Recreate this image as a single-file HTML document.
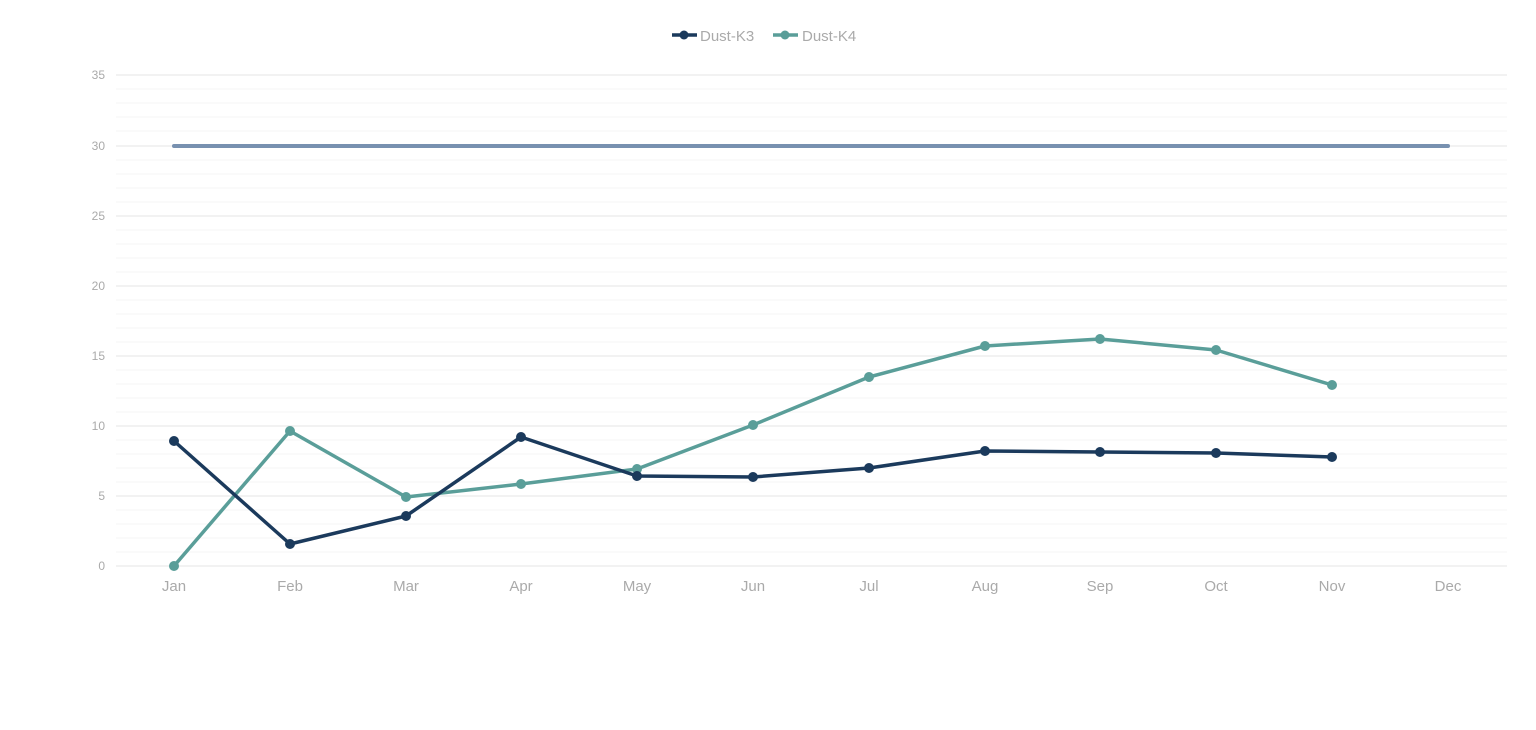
<!DOCTYPE html>
<html><head><meta charset="utf-8"><style>
html,body{margin:0;padding:0;background:#fff;width:1536px;height:730px;overflow:hidden}
svg{display:block;font-family:"Liberation Sans",sans-serif}
</style></head><body>
<svg width="1536" height="730" viewBox="0 0 1536 730">
<g stroke="#f4f4f4" stroke-width="1">
<line x1="116" x2="1507" y1="89" y2="89"/><line x1="116" x2="1507" y1="103" y2="103"/><line x1="116" x2="1507" y1="117" y2="117"/><line x1="116" x2="1507" y1="131" y2="131"/>
<line x1="116" x2="1507" y1="160" y2="160"/><line x1="116" x2="1507" y1="174" y2="174"/><line x1="116" x2="1507" y1="188" y2="188"/><line x1="116" x2="1507" y1="202" y2="202"/>
<line x1="116" x2="1507" y1="230" y2="230"/><line x1="116" x2="1507" y1="244" y2="244"/><line x1="116" x2="1507" y1="258" y2="258"/><line x1="116" x2="1507" y1="272" y2="272"/>
<line x1="116" x2="1507" y1="300" y2="300"/><line x1="116" x2="1507" y1="314" y2="314"/><line x1="116" x2="1507" y1="328" y2="328"/><line x1="116" x2="1507" y1="342" y2="342"/>
<line x1="116" x2="1507" y1="370" y2="370"/><line x1="116" x2="1507" y1="384" y2="384"/><line x1="116" x2="1507" y1="398" y2="398"/><line x1="116" x2="1507" y1="412" y2="412"/>
<line x1="116" x2="1507" y1="440" y2="440"/><line x1="116" x2="1507" y1="454" y2="454"/><line x1="116" x2="1507" y1="468" y2="468"/><line x1="116" x2="1507" y1="482" y2="482"/>
<line x1="116" x2="1507" y1="510" y2="510"/><line x1="116" x2="1507" y1="524" y2="524"/><line x1="116" x2="1507" y1="538" y2="538"/><line x1="116" x2="1507" y1="552" y2="552"/>
</g>
<g stroke="#e6e6e6" stroke-width="1">
<line x1="116" x2="1507" y1="75" y2="75"/><line x1="116" x2="1507" y1="146" y2="146"/><line x1="116" x2="1507" y1="216" y2="216"/><line x1="116" x2="1507" y1="286" y2="286"/><line x1="116" x2="1507" y1="356" y2="356"/><line x1="116" x2="1507" y1="426" y2="426"/><line x1="116" x2="1507" y1="496" y2="496"/><line x1="116" x2="1507" y1="566" y2="566"/>
</g>
<g fill="#aaa" font-size="12" text-anchor="end">
<text x="105" y="79">35</text><text x="105" y="150">30</text><text x="105" y="220">25</text><text x="105" y="290">20</text><text x="105" y="360">15</text><text x="105" y="430">10</text><text x="105" y="500">5</text><text x="105" y="570">0</text>
</g>
<g fill="#aaa" font-size="15" text-anchor="middle">
<text x="174" y="591">Jan</text><text x="290" y="591">Feb</text><text x="406" y="591">Mar</text><text x="521" y="591">Apr</text><text x="637" y="591">May</text><text x="753" y="591">Jun</text><text x="869" y="591">Jul</text><text x="985" y="591">Aug</text><text x="1100" y="591">Sep</text><text x="1216" y="591">Oct</text><text x="1332" y="591">Nov</text><text x="1448" y="591">Dec</text>
</g>
<line x1="174" x2="1448" y1="146" y2="146" stroke="#7891b0" stroke-width="4" stroke-linecap="round"/>
<polyline fill="none" stroke="#5a9e99" stroke-width="3.5" stroke-linejoin="round" points="174,566 290,431 406,497 521,484 637,469 753,425 869,377 985,346 1100,339 1216,350 1332,385"/>
<g fill="#5a9e99"><circle cx="174" cy="566" r="5"/><circle cx="290" cy="431" r="5"/><circle cx="406" cy="497" r="5"/><circle cx="521" cy="484" r="5"/><circle cx="637" cy="469" r="5"/><circle cx="753" cy="425" r="5"/><circle cx="869" cy="377" r="5"/><circle cx="985" cy="346" r="5"/><circle cx="1100" cy="339" r="5"/><circle cx="1216" cy="350" r="5"/><circle cx="1332" cy="385" r="5"/></g>
<polyline fill="none" stroke="#1b3a5c" stroke-width="3.5" stroke-linejoin="round" points="174,441 290,544 406,516 521,437 637,476 753,477 869,468 985,451 1100,452 1216,453 1332,457"/>
<g fill="#1b3a5c"><circle cx="174" cy="441" r="5"/><circle cx="290" cy="544" r="5"/><circle cx="406" cy="516" r="5"/><circle cx="521" cy="437" r="5"/><circle cx="637" cy="476" r="5"/><circle cx="753" cy="477" r="5"/><circle cx="869" cy="468" r="5"/><circle cx="985" cy="451" r="5"/><circle cx="1100" cy="452" r="5"/><circle cx="1216" cy="453" r="5"/><circle cx="1332" cy="457" r="5"/></g>
<line x1="672" x2="697" y1="35" y2="35" stroke="#1b3a5c" stroke-width="3.5"/><circle cx="684" cy="35" r="4.5" fill="#1b3a5c"/>
<text x="700" y="41" fill="#aaa" font-size="15">Dust-K3</text>
<line x1="773" x2="798" y1="35" y2="35" stroke="#5a9e99" stroke-width="3.5"/><circle cx="785" cy="35" r="4.5" fill="#5a9e99"/>
<text x="802" y="41" fill="#aaa" font-size="15">Dust-K4</text>
</svg>
</body></html>
